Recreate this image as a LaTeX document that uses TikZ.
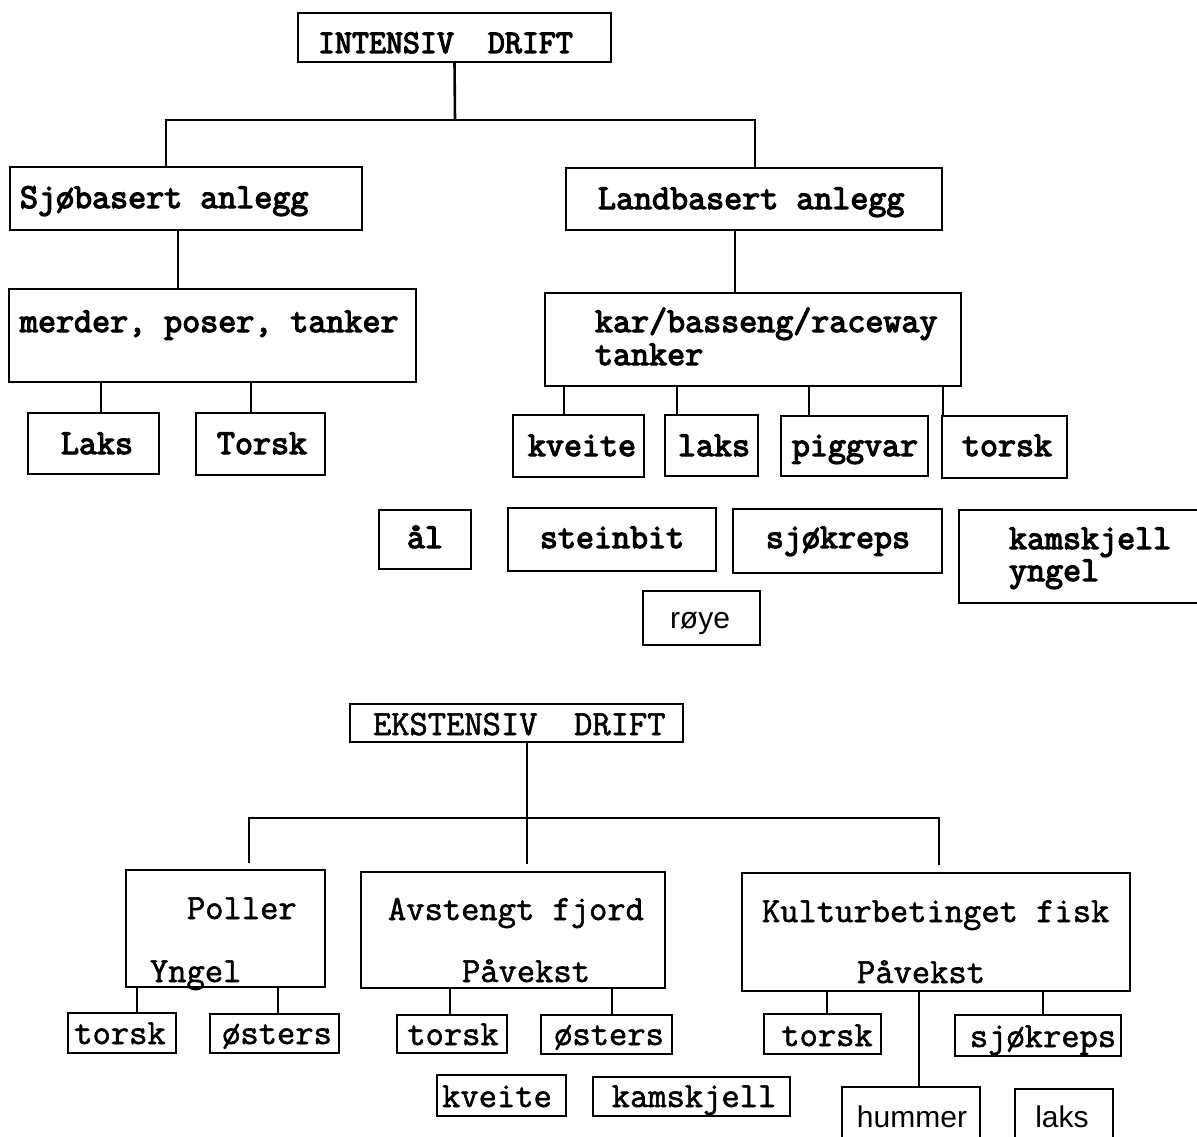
\documentclass[tikz,border=0pt]{standalone}
\usepackage{fontspec}
\newfontfamily\ctop[FakeBold=3.6]{Latin Modern Mono}
\newfontfamily\clow[FakeBold=1.6]{Latin Modern Mono}
\newfontfamily\csans{Liberation Sans}
\newcommand\fT{\ctop\fontsize{35}{29}\selectfont}
\newcommand\fH{\ctop\fontsize{33}{29}\selectfont}
\newcommand\fL{\clow\fontsize{35.5}{30}\selectfont}
\newcommand\fS{\csans\fontsize{30}{30}\selectfont}
\newcommand\bx[5]{\node[box,anchor=north west,minimum width=#4pt,minimum height=#5pt] (#1) at (#2,#3) {};}
\newcommand\tl[4]{\node[txt,anchor=base west] (#1) at (#2,#3) {#4};}
\newcommand\tc[4]{\node[txt,anchor=base] (#1) at (#2,#3) {#4};}
\begin{document}
\begin{tikzpicture}[x=1pt,y=-1pt,
  box/.style={draw,line width=2.8pt,inner sep=0pt,outer sep=0pt},
  txt/.style={inner sep=0pt,outer sep=0pt},
  conn/.style={line width=2.6pt}]
\useasboundingbox (0,0) rectangle (1197,1137);
% ---------- INTENSIV ----------
\bx{intens}{298}{13}{313}{49}
\bx{sjo}{10}{167}{352}{63}
\bx{land}{566}{168}{376}{62}
\bx{merder}{9}{289}{407}{93}
\bx{kar}{545}{293}{416}{93}
\bx{laksA}{28}{413}{131}{61}
\bx{torskA}{196}{413}{129}{62}
\bx{kveiteB}{513}{415}{131}{62}
\bx{laksB}{665}{415}{93}{61}
\bx{piggvar}{781}{416}{147}{60}
\bx{torskB}{942}{416}{125}{62}
\bx{aal}{379}{510}{92}{59}
\bx{steinbit}{508}{508}{208}{63}
\bx{sjokr}{733}{509}{209}{64}
\bx{kamsk}{959}{510}{250}{93}
\bx{roye}{643}{591}{117}{54}
\tl{t1}{318}{53}{\fH INTENSIV\ \ DRIFT}
\tl{t2}{20}{208}{\fT Sjøbasert anlegg}
\tl{t3}{598}{209}{\fT Landbasert anlegg}
\tl{t4}{20}{332}{\fT merder, poser, tanker}
\tl{t5a}{595}{332}{\fT kar/basseng/raceway}
\tl{t5b}{595}{365}{\fT tanker}
\tc{t6}{97}{454}{\fT Laks}
\tc{t7}{262}{454}{\fT Torsk}
\tc{t8}{582}{456}{\fT kveite}
\tc{t9}{714}{456}{\fT laks}
\tc{t10}{855}{456}{\fT piggvar}
\tc{t11}{1007}{456}{\fT torsk}
\tc{t12}{425}{548}{\fT ål}
\tc{t13}{612}{548}{\fT steinbit}
\tc{t14}{838}{548}{\fT sjøkreps}
\tl{t15a}{1009}{549}{\fT kamskjell}
\tl{t15b}{1009}{581}{\fT yngel}
\tc{t16}{700}{628}{\fS røye}
% connectors
\coordinate (jI) at (455,120);
\draw[conn] (intens.south) -- (jI);
\draw[conn] (166,0 |- sjo.north) -- (166,0 |- jI) -- (755,0 |- jI) -- (755,0 |- land.north);
\draw[conn] (178,0 |- sjo.south) -- (178,0 |- merder.north);
\draw[conn] (735,0 |- land.south) -- (735,0 |- kar.north);
\draw[conn] (101,0 |- merder.south) -- (101,0 |- laksA.north);
\draw[conn] (251,0 |- merder.south) -- (251,0 |- torskA.north);
\draw[conn] (564,0 |- kar.south) -- (564,0 |- kveiteB.north);
\draw[conn] (677,0 |- kar.south) -- (677,0 |- laksB.north);
\draw[conn] (809,0 |- kar.south) -- (809,0 |- piggvar.north);
\draw[conn] (943,0 |- kar.south) -- (943,0 |- torskB.north);
% ---------- EKSTENSIV ----------
\bx{ekst}{350}{704}{333}{38}
\bx{poller}{126}{870}{199}{117}
\bx{avst}{361}{872}{304}{116}
\bx{kultur}{742}{873}{388}{118}
\bx{torskC}{68}{1013}{108}{40}
\bx{ostersC}{210}{1014}{129}{39}
\bx{torskD}{397}{1015}{110}{38}
\bx{ostersD}{541}{1015}{131}{39}
\bx{kveiteD}{437}{1075}{129}{41}
\bx{kamskD}{593}{1077}{197}{39}
\bx{torskE}{764}{1014}{117}{40}
\bx{sjokrE}{955}{1015}{166}{41}
\bx{hummer}{842}{1087}{138}{60}
\bx{laksE}{1015}{1089}{98}{60}
\tl{u1}{373}{735}{\fL EKSTENSIV\ \ DRIFT}
\tl{u2}{187}{919}{\fL Poller}
\tl{u3}{150}{982}{\fL Yngel}
\tl{u4}{388}{920}{\fL Avstengt fjord}
\tl{u5}{462}{982}{\fL Påvekst}
\tl{u6}{762}{922}{\fL Kulturbetinget fisk}
\tl{u7}{857}{983}{\fL Påvekst}
\tc{u8}{120}{1044}{\fL torsk}
\tc{u9}{277}{1044}{\fL østers}
\tc{u10}{453}{1045}{\fL torsk}
\tc{u11}{609}{1045}{\fL østers}
\tc{u12}{497}{1107}{\fL kveite}
\tc{u13}{694}{1107}{\fL kamskjell}
\tc{u14}{827}{1046}{\fL torsk}
\tc{u15}{1043}{1047}{\fL sjøkreps}
\tc{u16}{912}{1127}{\fS hummer}
\tc{u17}{1062}{1127}{\fS laks}
\coordinate (jE) at (527,818);
\coordinate (eP) at (249,863);
\coordinate (eA) at (527,864);
\coordinate (eK) at (939,865);
\draw[conn] (527,0 |- ekst.south) -- (eA);
\draw[conn] (eP) -- (249,0 |- jE) -- (939,0 |- jE) -- (eK);
\draw[conn] (137,0 |- poller.south) -- (137,0 |- torskC.north);
\draw[conn] (278,0 |- poller.south) -- (278,0 |- ostersC.north);
\draw[conn] (450,0 |- avst.south) -- (450,0 |- torskD.north);
\draw[conn] (612,0 |- avst.south) -- (612,0 |- ostersD.north);
\draw[conn] (827,0 |- kultur.south) -- (827,0 |- torskE.north);
\draw[conn] (1043,0 |- kultur.south) -- (1043,0 |- sjokrE.north);
\draw[conn] (919,0 |- kultur.south) -- (919,0 |- hummer.north);
\end{tikzpicture}
\end{document}
